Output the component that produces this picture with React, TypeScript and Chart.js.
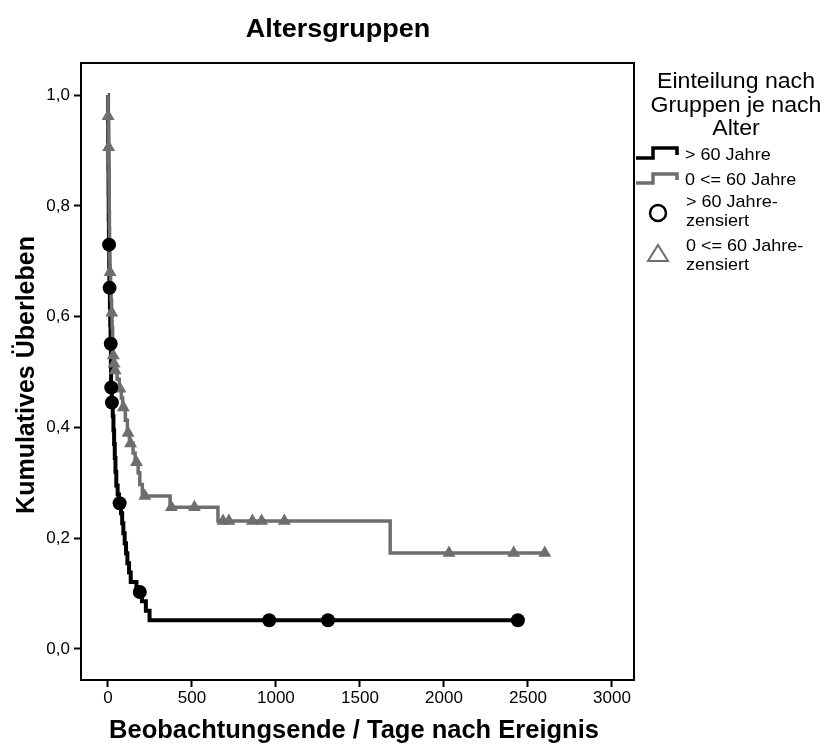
import React, { useEffect, useRef } from 'react';
import { Chart, registerables } from 'chart.js';

Chart.register(...registerables);

const TITLE = 'Altersgruppen';
const X_TITLE = 'Beobachtungsende / Tage nach Ereignis';
const Y_TITLE = 'Kumulatives Überleben';
const LEGEND_TITLE = ['Einteilung nach', 'Gruppen je nach', 'Alter'];
const LEGEND_LABELS = [['> 60 Jahre'], ['0 <= 60 Jahre'], ['> 60 Jahre-', 'zensiert'], ['0 <= 60 Jahre-', 'zensiert']];
const X_TICKS = [0, 500, 1000, 1500, 2000, 2500, 3000];
const Y_TICKS = [0, 0.2, 0.4, 0.6, 0.8, 1.0];

// > 60 Jahre : event times (days) and cumulative survival after each step
const oldTimes = [0, 1, 2, 3, 4, 5, 6, 8, 9, 12, 14, 16, 18, 19, 23, 29, 33, 37, 41, 45, 50, 58, 66, 78, 85, 92, 100, 108, 116, 126, 136, 170, 203, 226, 248, 2440];
const oldSurv = [1.0, 0.955, 0.91, 0.865, 0.82, 0.775, 0.73, 0.691, 0.652, 0.618, 0.585, 0.551, 0.512, 0.472, 0.445, 0.42, 0.395, 0.37, 0.345, 0.32, 0.295, 0.279, 0.263, 0.245, 0.227, 0.209, 0.191, 0.173, 0.155, 0.138, 0.121, 0.103, 0.086, 0.069, 0.052, 0.052];
const oldCensorTimes = [7, 10, 17, 20, 24, 70, 190, 960, 1310, 2440];
const oldCensorSurv = [0.73, 0.652, 0.551, 0.472, 0.445, 0.263, 0.103, 0.052, 0.052, 0.052];

// 0 <= 60 Jahre
const youngTimes = [0, 1, 3, 4, 5, 6, 7, 8, 9, 10, 11, 12, 16, 19, 22, 25, 28, 31, 35, 41, 55, 68, 80, 88, 104, 116, 128, 150, 162, 180, 190, 205, 370, 655, 1680, 2600];
const youngSurv = [1.0, 0.962, 0.934, 0.906, 0.878, 0.85, 0.82, 0.79, 0.76, 0.735, 0.707, 0.68, 0.654, 0.63, 0.607, 0.58, 0.555, 0.53, 0.515, 0.503, 0.487, 0.47, 0.453, 0.436, 0.413, 0.39, 0.371, 0.354, 0.337, 0.318, 0.297, 0.276, 0.256, 0.231, 0.1735, 0.1735];
const youngCensorTimes = [1.5, 4.5, 13, 23, 32, 37, 43, 72, 92, 120, 135, 170, 220, 378, 515, 685, 720, 860, 915, 1050, 2030, 2415, 2600];
const youngCensorSurv = [0.962, 0.906, 0.68, 0.607, 0.53, 0.515, 0.503, 0.47, 0.436, 0.39, 0.371, 0.337, 0.276, 0.256, 0.256, 0.231, 0.231, 0.231, 0.231, 0.231, 0.1735, 0.1735, 0.1735];

const FONT = "'Liberation Sans', Arial, Helvetica, sans-serif";
const GRAY = '#6e6e6e';

const toXY = (xs: number[], ys: number[]) => xs.map((x, i) => ({ x, y: ys[i] }));

function drawText(ctx: CanvasRenderingContext2D, text: string, x: number, y: number, align: CanvasTextAlign, sx = 1) {
  ctx.save();
  ctx.translate(x, y);
  ctx.scale(sx, 1);
  ctx.textAlign = align;
  ctx.textBaseline = 'alphabetic';
  ctx.fillText(text, 0, 0);
  ctx.restore();
}

const decorPlugin = {
  id: 'decor',
  afterDraw(chart: any) {
    const ctx: CanvasRenderingContext2D = chart.ctx;
    const a = chart.chartArea;
    ctx.save();
    // frame
    ctx.strokeStyle = '#000';
    ctx.lineWidth = 2;
    ctx.strokeRect(a.left, a.top, a.right - a.left, a.bottom - a.top);

    ctx.fillStyle = '#000';
    // main title
    ctx.font = `bold 25px ${FONT}`;
    drawText(ctx, TITLE, 338, 37, 'center', 1.08);
    // x title
    ctx.font = `bold 25px ${FONT}`;
    drawText(ctx, X_TITLE, 354, 738, 'center', 1.02);
    // y title
    ctx.save();
    ctx.translate(34, 375);
    ctx.rotate(-Math.PI / 2);
    ctx.font = `bold 25px ${FONT}`;
    ctx.textAlign = 'center';
    ctx.textBaseline = 'alphabetic';
    ctx.fillText(Y_TITLE, 0, 0);
    ctx.restore();

    // legend title
    ctx.font = `22px ${FONT}`;
    const ty = [88, 112, 135];
    LEGEND_TITLE.forEach((t, i) => drawText(ctx, t, 736, ty[i], 'center', 1.05));

    // legend symbols
    ctx.lineJoin = 'miter';
    ctx.lineCap = 'butt';
    ctx.lineWidth = 3.5;
    ctx.strokeStyle = '#000';
    ctx.beginPath();
    ctx.moveTo(636, 158);
    ctx.lineTo(653, 158);
    ctx.lineTo(653, 148);
    ctx.lineTo(677, 148);
    ctx.lineTo(677, 155);
    ctx.stroke();
    ctx.strokeStyle = GRAY;
    ctx.beginPath();
    ctx.moveTo(636, 183);
    ctx.lineTo(653, 183);
    ctx.lineTo(653, 174);
    ctx.lineTo(677, 174);
    ctx.lineTo(677, 180);
    ctx.stroke();
    // open circle
    ctx.strokeStyle = '#000';
    ctx.lineWidth = 2.5;
    ctx.beginPath();
    ctx.arc(658, 213, 8, 0, Math.PI * 2);
    ctx.stroke();
    // open triangle
    ctx.strokeStyle = GRAY;
    ctx.lineWidth = 2;
    ctx.beginPath();
    ctx.moveTo(658, 245);
    ctx.lineTo(668, 261);
    ctx.lineTo(648, 261);
    ctx.closePath();
    ctx.stroke();

    // legend labels
    ctx.fillStyle = '#000';
    ctx.font = `17px ${FONT}`;
    const lx = 685;
    const sx = 1.06;
    drawText(ctx, LEGEND_LABELS[0][0], lx, 160, 'left', sx);
    drawText(ctx, LEGEND_LABELS[1][0], lx, 185, 'left', sx);
    drawText(ctx, LEGEND_LABELS[2][0], lx + 1, 207, 'left', sx);
    drawText(ctx, LEGEND_LABELS[2][1], lx + 1, 226, 'left', sx);
    drawText(ctx, LEGEND_LABELS[3][0], lx + 1, 251, 'left', sx);
    drawText(ctx, LEGEND_LABELS[3][1], lx + 1, 270, 'left', sx);
    ctx.restore();
  },
};

export default function App() {
  const ref = useRef<HTMLCanvasElement>(null);

  useEffect(() => {
    if (!ref.current) return;
    const chart = new Chart(ref.current, {
      type: 'line',
      data: {
        datasets: [
          {
            label: '> 60 Jahre-zensiert',
            data: toXY(oldCensorTimes, oldCensorSurv),
            showLine: false,
            pointStyle: 'circle',
            pointRadius: 7,
            backgroundColor: '#000',
            borderColor: '#000',
            borderWidth: 0,
            order: 0,
          },
          {
            label: '0 <= 60 Jahre-zensiert',
            data: toXY(youngCensorTimes, youngCensorSurv),
            showLine: false,
            pointStyle: 'triangle',
            pointRadius: 7.5,
            backgroundColor: GRAY,
            borderColor: GRAY,
            borderWidth: 0,
            order: 1,
          },
          {
            label: '0 <= 60 Jahre',
            data: toXY(youngTimes, youngSurv),
            stepped: 'before',
            borderColor: GRAY,
            borderWidth: 3.5,
            pointRadius: 0,
            fill: false,
            order: 2,
          },
          {
            label: '> 60 Jahre',
            data: toXY(oldTimes, oldSurv),
            stepped: 'before',
            borderColor: '#000',
            borderWidth: 4,
            pointRadius: 0,
            fill: false,
            order: 3,
          },
        ],
      },
      options: {
        animation: false,
        responsive: false,
        devicePixelRatio: 1,
        events: [],
        layout: { padding: { top: 63, right: 193, left: 0, bottom: 0 } },
        plugins: {
          legend: { display: false },
          tooltip: { enabled: false },
          title: { display: false },
        },
        scales: {
          x: {
            type: 'linear',
            min: -160,
            max: 3131,
            afterBuildTicks: (s: any) => {
              s.ticks = X_TICKS.map((v) => ({ value: v }));
            },
            afterFit: (s: any) => {
              s.height = 65;
            },
            grid: { drawOnChartArea: false, drawTicks: true, tickLength: 7, tickWidth: 2, tickColor: '#000', color: '#000' },
            border: { display: true, color: '#000', width: 2 },
            ticks: {
              color: '#000',
              font: { family: FONT, size: 17 },
              padding: 1,
              maxRotation: 0,
              autoSkip: false,
              callback: (v: any) => String(v),
            },
          },
          y: {
            type: 'linear',
            min: -0.056,
            max: 1.058,
            afterBuildTicks: (s: any) => {
              s.ticks = Y_TICKS.map((v) => ({ value: v }));
            },
            afterFit: (s: any) => {
              s.width = 81;
            },
            grid: { drawOnChartArea: false, drawTicks: true, tickLength: 7, tickWidth: 2, tickColor: '#000', color: '#000' },
            border: { display: true, color: '#000', width: 2 },
            ticks: {
              color: '#000',
              font: { family: FONT, size: 17 },
              padding: 4,
              autoSkip: false,
              callback: (v: any) => Number(v).toFixed(1).replace('.', ','),
            },
          },
        },
      },
      plugins: [decorPlugin],
    } as any);
    return () => chart.destroy();
  }, []);

  return (
    <div style={{ position: 'fixed', left: 0, top: 0, width: 827, height: 745, background: '#fff' }}>
      <canvas ref={ref} width={827} height={745} style={{ display: 'block', width: 827, height: 745 }} />
    </div>
  );
}
